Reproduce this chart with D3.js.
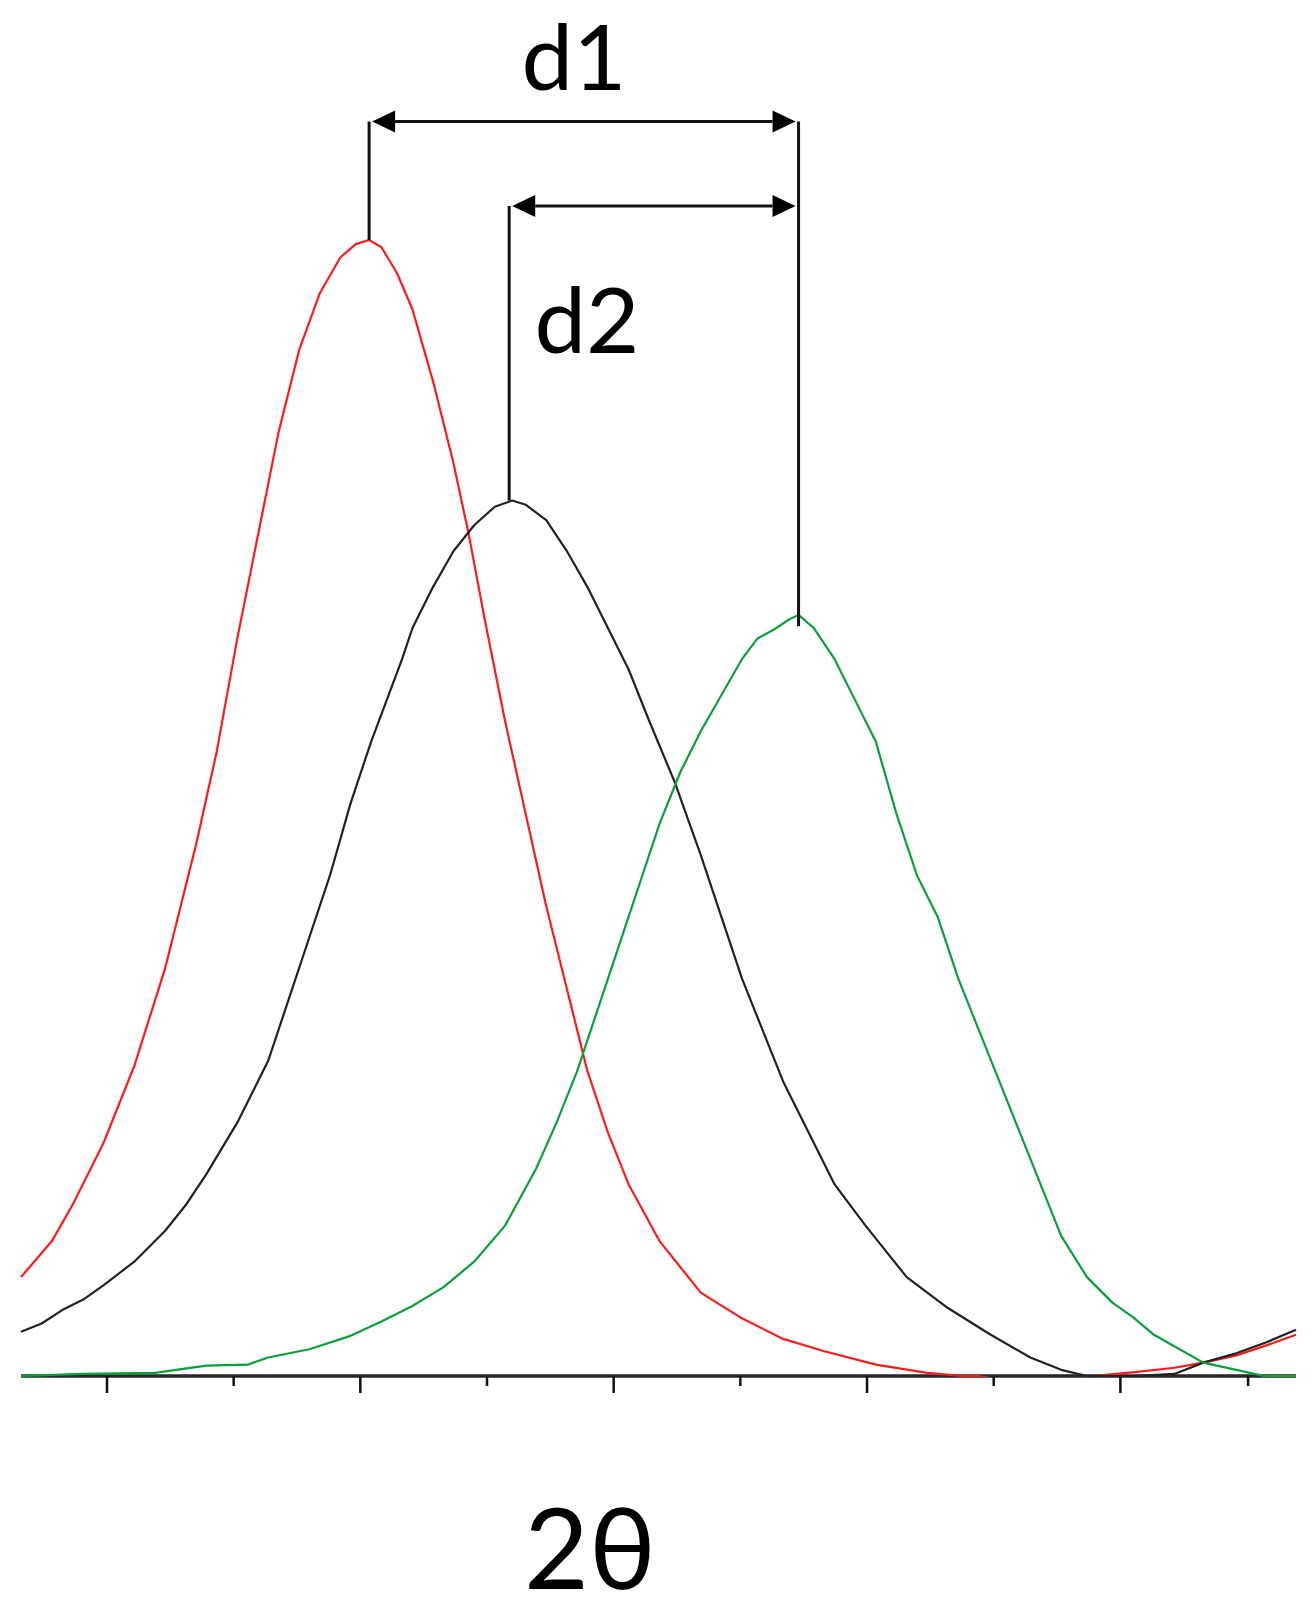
<!DOCTYPE html>
<html>
<head>
<meta charset="utf-8">
<script src="https://cdn.jsdelivr.net/npm/d3@7"></script>
<style>
  body { margin: 0; background: #fff; }
  text { font-family: Lato, "Open Sans", sans-serif; fill: #000; }
</style>
</head>
<body>
<div id="vis"></div>
<script>
// 2theta in arbitrary units, intensity in arbitrary counts
var redX = [20, 50, 70, 100, 130, 160, 190, 210, 230, 250, 270, 290, 310, 330, 345, 358, 370, 385, 400, 420,
            440, 455, 470, 490, 510, 530, 550, 570, 590, 610, 640, 680, 720, 760, 800, 850, 900, 935, 950, 970,
            1040, 1060, 1104, 1140, 1168, 1200, 1230, 1258];
var redY = [96, 131, 166, 226, 301, 396, 516, 606, 716, 816, 916, 996, 1051, 1086, 1099, 1103, 1096, 1071, 1036, 966,
            886, 816, 736, 636, 546, 456, 376, 296, 236, 186, 131, 81, 56, 36, 24, 11, 3, 0, 0, -4,
            -4, 0, 4, 8, 13, 20, 30, 40];

var blackX = [20, 40, 60, 80, 100, 130, 160, 180, 200, 230, 260, 280, 300, 320, 340, 360, 375, 390, 400, 420,
              440, 460, 480, 497, 510, 530, 550, 570, 590, 610, 630, 655, 680, 700, 720, 740, 760, 780, 810, 840,
              880, 920, 960, 1000, 1030, 1055, 1100, 1140, 1168, 1200, 1230, 1258];
var blackY = [43, 51, 64, 74, 88, 111, 141, 166, 196, 246, 306, 366, 426, 486, 556, 616, 656, 696, 726, 766,
              801, 826, 844, 850, 846, 831, 801, 766, 726, 686, 636, 576, 506, 446, 386, 336, 286, 246, 186, 146,
              96, 66, 41, 18, 6, 0, 0, 2, 13, 22, 33, 45];

var greenX = [20, 80, 150, 200, 240, 260, 300, 340, 370, 400, 430, 460, 490, 520, 540, 560, 580, 600, 620, 640,
              660, 680, 700, 720, 735, 750, 765, 775, 790, 810, 830, 850, 870, 890, 910, 930, 950, 970, 990, 1010,
              1030, 1055, 1080, 1100, 1120, 1145, 1168, 1200, 1227, 1258];
var greenY = [0, 2, 3, 10, 11, 18, 26, 39, 53, 68, 86, 111, 146, 201, 246, 296, 356, 416, 476, 536,
              586, 626, 661, 696, 716, 724, 734, 739, 726, 696, 656, 616, 546, 486, 446, 386, 336, 286, 236, 186,
              136, 96, 71, 57, 40, 26, 13, 6, 0, 0];

var majorTicks = [103, 349, 595, 841, 1087];
var minorTicks = [226, 472, 718, 964, 1211];

// peak markers: where the vertical lines stand and how low they reach
var peakX = [358, 494, 775];
var peakTop = [1103, 850, 728];
// d1 / d2 arrows: level, from peak, to peak
var arrowLabels = ["d1", "d2"];
var arrowLevel = [1218, 1136];
var arrowFrom = [0, 1];
var arrowTo = [2, 2];

var W = 1312, H = 1615;
var svg = d3.select("#vis").append("svg").attr("width", W).attr("height", H);

var xScale = d3.scaleLinear().domain([20, 1258]).range([21, 1296]);
var yScale = d3.scaleLinear().domain([0, 1103]).range([1376, 240]);

// axis first, curves drawn on top of it
var xAxisMajor = d3.axisBottom(xScale).tickValues(majorTicks).tickSize(17).tickFormat("");
var xAxisMinor = d3.axisBottom(xScale).tickValues(minorTicks).tickSize(10).tickFormat("");

var gMajor = svg.append("g").attr("transform", "translate(0," + yScale(0) + ")").call(xAxisMajor);
svg.append("g").attr("transform", "translate(0," + yScale(0) + ")").call(xAxisMinor)
    .select(".domain").remove();
gMajor.select(".domain").attr("stroke", "#262626").attr("stroke-width", 3.5)
    .attr("d", "M" + xScale(20) + ",0H" + xScale(1258));
svg.selectAll(".tick line").attr("stroke", "#111").attr("stroke-width", 2.5);

// clip at the baseline, values below zero vanish under the axis
svg.append("clipPath").attr("id", "plotClip").append("rect")
    .attr("x", 0).attr("y", 0).attr("width", W).attr("height", yScale(0) + 1);

var line = d3.line()
    .x(function(d) { return xScale(d[0]); })
    .y(function(d) { return yScale(d[1]); });

var series = [
    { x: redX, y: redY, color: "#ff1a1a" },
    { x: blackX, y: blackY, color: "#222" },
    { x: greenX, y: greenY, color: "#08a03a" }
];

var curves = svg.append("g").attr("clip-path", "url(#plotClip)");
series.forEach(function(s) {
    var pts = s.x.map(function(v, i) { return [v, s.y[i]]; });
    curves.append("path")
        .datum(pts)
        .attr("d", line)
        .attr("fill", "none")
        .attr("stroke", s.color)
        .attr("stroke-width", 2.2)
        .attr("stroke-linejoin", "round");
});

// annotation: vertical lines from the peaks up to the highest arrow they hold
var ann = svg.append("g");
peakX.forEach(function(px, i) {
    var lv = arrowLevel.filter(function(l, k) {
        return arrowFrom[k] == i || arrowTo[k] == i;
    });
    ann.append("line")
        .attr("x1", xScale(px)).attr("x2", xScale(px))
        .attr("y1", yScale(d3.max(lv)))
        .attr("y2", yScale(peakTop[i]))
        .attr("stroke", "#111").attr("stroke-width", 3);
});

// double headed arrows
var headLen = 23, headHalf = 11, gap = 3;
arrowLevel.forEach(function(lvl, k) {
    var y = yScale(lvl);
    var xa = xScale(peakX[arrowFrom[k]]) + gap;
    var xb = xScale(peakX[arrowTo[k]]) - gap;
    ann.append("line")
        .attr("x1", xa + headLen).attr("x2", xb - headLen)
        .attr("y1", y).attr("y2", y)
        .attr("stroke", "#111").attr("stroke-width", 3);
    ann.append("path")
        .attr("d", "M" + xa + "," + y + "L" + (xa + headLen) + "," + (y - headHalf) +
                   "L" + (xa + headLen) + "," + (y + headHalf) + "Z")
        .attr("fill", "#000");
    ann.append("path")
        .attr("d", "M" + xb + "," + y + "L" + (xb - headLen) + "," + (y - headHalf) +
                   "L" + (xb - headLen) + "," + (y + headHalf) + "Z")
        .attr("fill", "#000");
});

// labels
svg.append("text").attr("x", 574).attr("y", 90)
    .attr("text-anchor", "middle").attr("font-size", 92).text(arrowLabels[0]);
svg.append("text").attr("x", 587).attr("y", 353)
    .attr("text-anchor", "middle").attr("font-size", 92).text(arrowLabels[1]);
svg.append("text").attr("x", 590).attr("y", 1589)
    .attr("text-anchor", "middle").attr("font-size", 112).text("2θ");
</script>
</body>
</html>
